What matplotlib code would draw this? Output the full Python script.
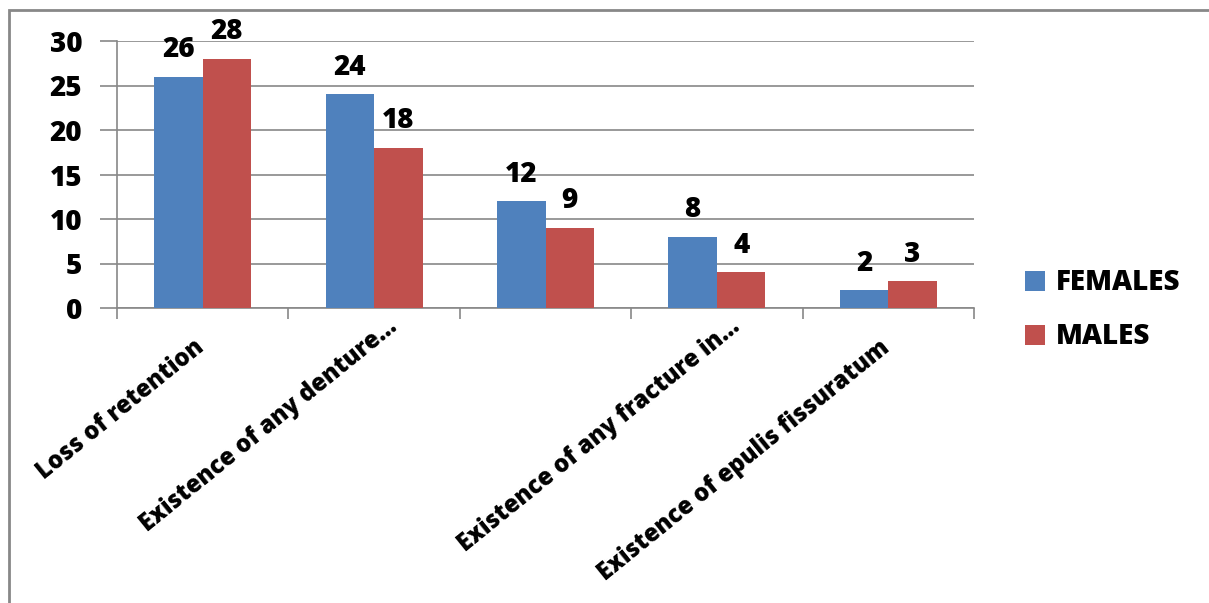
import numpy as np
import matplotlib.pyplot as plt
from matplotlib.patches import Rectangle

categories = ["Loss of retention", "Existence of any denture...", "",
              "Existence of any fracture in...", "Existence of epulis fissuratum"]
females = [26, 24, 12, 8, 2]
males = [28, 18, 9, 4, 3]

plt.rcParams['font.family'] = ['Open Sans', 'DejaVu Sans']
plt.rcParams['font.weight'] = 'heavy'

fig = plt.figure(figsize=(12.09, 6.03), dpi=100)
ax = fig.add_axes([117 / 1209, 1 - 308 / 603, (974 - 117) / 1209, (308 - 41) / 603])

x = np.arange(len(categories))
w = 0.283
b1 = ax.bar(x - w / 2, females, w, color='#4f81bd', label='FEMALES', zorder=3)
b2 = ax.bar(x + w / 2, males, w, color='#c0504d', label='MALES', zorder=3)
for bars in (b1, b2):
    ax.bar_label(bars, padding=9, fontsize=20, fontweight='heavy')

ax.set_xlim(-0.5, len(categories) - 0.5)
ax.set_ylim(0, 30)
ax.set_yticks(range(0, 31, 5))
ax.yaxis.grid(True, color='#888888', linewidth=1.2, zorder=0)
ax.set_xticks(np.arange(-0.5, len(categories)))
ax.set_xticklabels([])
ax.tick_params(axis='x', length=8, color='#888888', width=1.2)
ax.tick_params(axis='y', length=12, color='#888888', width=1.2, labelsize=20, pad=13)
for lab in ax.get_yticklabels():
    lab.set_fontweight('heavy')
for s in ('top', 'right'):
    ax.spines[s].set_visible(False)
for s in ('left', 'bottom'):
    ax.spines[s].set_color('#888888')
    ax.spines[s].set_linewidth(1.2)

# category labels, truncated ones sit a bit further up-right like in Excel
for i, name in enumerate(categories):
    off = (12, -6) if name.endswith('...') else (-9, -27)
    ax.annotate(name, xy=(i, 0), xytext=off, textcoords='offset pixels',
                rotation=39, rotation_mode='anchor', ha='right', va='top',
                fontsize=17, fontweight='heavy', annotation_clip=False)

ax.legend(loc='center left', bbox_to_anchor=(1014 / 1209, 1 - 310 / 603),
          bbox_transform=fig.transFigure, frameon=False, borderaxespad=0,
          prop={'size': 20, 'weight': 'heavy'}, handlelength=0.7, handleheight=0.7,
          labelspacing=0.9, handletextpad=0.4)

fig.patches.append(Rectangle((9 / 1209, -0.05), 1.1, 1 - 10 / 603 + 0.05,
                             transform=fig.transFigure, fill=False,
                             edgecolor='#888888', linewidth=2))

fig.savefig('out.png', dpi=100)
